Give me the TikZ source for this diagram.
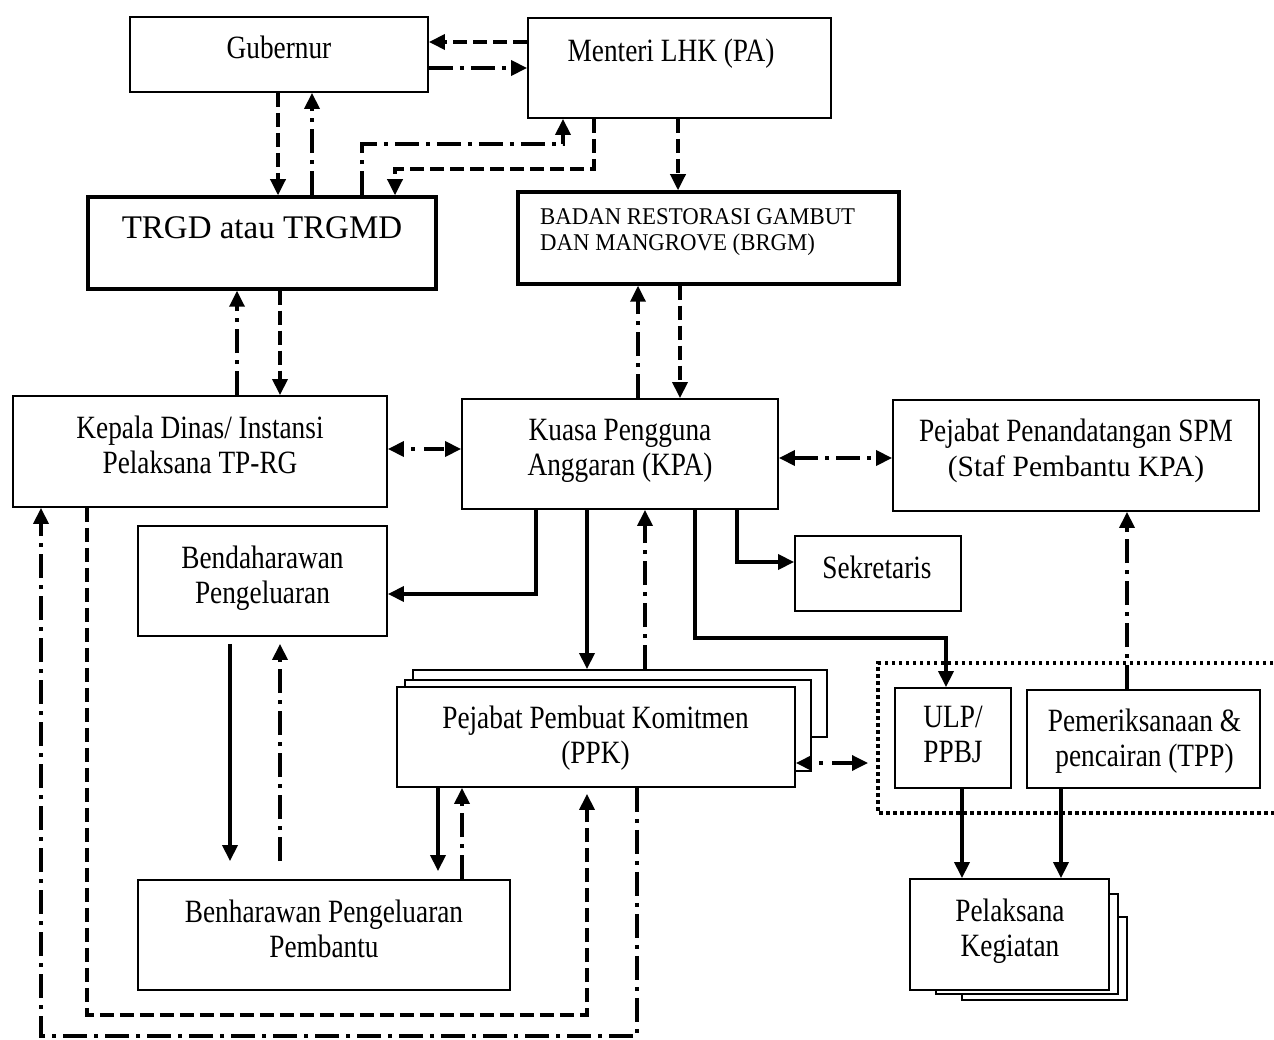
\documentclass[tikz,border=0pt]{standalone}
\usepackage{fontspec}
\usetikzlibrary{arrows.meta}
\newfontfamily\tmsc[FakeStretch=0.84]{Liberation Serif}
\newfontfamily\tmsn{Liberation Serif}
\newfontfamily\tmsb[FakeStretch=0.95]{Liberation Serif}
\newcommand\txtf{\tmsc\fontsize{32.5}{35}\selectfont}
\newcommand\trgf{\tmsn\fontsize{33}{36}\selectfont}
\newcommand\brgf{\tmsb\fontsize{24}{26}\selectfont}
\newcommand\spmf{\tmsn\fontsize{29.5}{35}\selectfont}
\tikzset{
  bx/.style={draw, line width=1.8pt, fill=white, inner sep=0pt, rectangle},
  bxthick/.style={bx, line width=3.5pt},
  txt/.style={font=\txtf, align=center, inner sep=0pt, anchor=north},
  conn/.style={line width=3.4pt, -{Triangle[length=16pt,width=15pt]}},
  both/.style={line width=3.4pt, {Triangle[length=16pt,width=15pt]}-{Triangle[length=16pt,width=15pt]}},
  dsh/.style={dash pattern=on 14pt off 6pt},
  dshdot/.style={dash pattern=on 24pt off 7pt on 4pt off 7pt},
  shortdd/.style={dash pattern=on 4pt off 9pt on 20pt off 8pt, dash phase=33pt},
  region/.style={line width=3.5pt, dash pattern=on 3.5pt off 3.5pt},
}
\begin{document}
\begin{tikzpicture}[x=1pt,y=-1pt]
\useasboundingbox (0,0) rectangle (1274,1040);
% boxes
\node[bx, minimum width=298pt, minimum height=75pt] (gub) at (279,54.5) {};
\node[bx, minimum width=303pt, minimum height=100pt] (men) at (679.5,68) {};
\node[bxthick, minimum width=348pt, minimum height=92pt] (trg) at (262,243) {};
\node[bxthick, minimum width=381pt, minimum height=92pt] (brg) at (708.5,238) {};
\node[bx, minimum width=374pt, minimum height=111pt] (kep) at (200,451.5) {};
\node[bx, minimum width=316pt, minimum height=110pt] (kpa) at (620,454) {};
\node[bx, minimum width=366pt, minimum height=111pt] (spm) at (1076,455.5) {};
\node[bx, minimum width=249pt, minimum height=110pt] (ben) at (262.5,581) {};
\node[bx, minimum width=166pt, minimum height=75pt] (sek) at (878,573.5) {};
\node[bx, minimum width=414pt, minimum height=67pt] (ppk3) at (620,703.5) {};
\node[bx, minimum width=406pt, minimum height=91pt] (ppk2) at (608,725.5) {};
\node[bx, minimum width=398pt, minimum height=100pt] (ppk) at (596,737) {};
% dotted region
\draw[region] (1280,663) -- (878,663) -- (878,813) -- (1280,813);
\node[bx, minimum width=116pt, minimum height=100pt] (ulp) at (953,738) {};
\node[bx, minimum width=233pt, minimum height=98pt] (tpp) at (1143.5,739) {};
\node[bx, minimum width=165pt, minimum height=83pt] (pel3) at (1044.5,958.5) {};
\node[bx, minimum width=182pt, minimum height=100pt] (pel2) at (1027,944) {};
\node[bx, minimum width=199pt, minimum height=111pt] (pel) at (1009.5,934.5) {};
\node[bx, minimum width=372pt, minimum height=110pt] (bhp) at (324,935) {};
% texts
\node[txt] (tgub) at (279,35.5) {Gubernur};
\node[txt] (tmen) at (671,38.5) {Menteri LHK (PA)};
\node[txt, font=\trgf] (ttrg) at (262,216) {TRGD atau TRGMD};
\node[txt, font=\brgf, align=left, anchor=north west] (tbrg) at (540,208) {BADAN RESTORASI GAMBUT\\DAN MANGROVE (BRGM)};
\node[txt] (tkep) at (200,415.5) {Kepala Dinas/ Instansi\\Pelaksana TP-RG};
\node[txt] (tkpa) at (620,419) {Kuasa Pengguna\\Anggaran (KPA)};
\node[txt] (tspm) at (1076,418.5) {Pejabat Penandatangan SPM\\{\spmf (Staf Pembantu KPA)}};
\node[txt] (tben) at (262.5,546) {Bendaharawan\\Pengeluaran};
\node[txt] (tsek) at (877,555.5) {Sekretaris};
\node[txt] (tppk) at (595.5,706) {Pejabat Pembuat Komitmen\\(PPK)};
\node[txt] (tulp) at (953,706) {ULP/\\PPBJ};
\node[txt] (ttpp) at (1144.5,709) {Pemeriksanaan \&\\pencairan (TPP)};
\node[txt] (tpel) at (1010,898.5) {Pelaksana\\Kegiatan};
\node[txt] (tbhp) at (324,900) {Benharawan Pengeluaran\\Pembantu};
% connectors top
\draw[conn,dsh] (men.west |- 0,42) -- (gub.east |- 0,42);
\draw[conn,dshdot] (gub.east |- 0,68) -- (men.west |- 0,68);
\draw[conn,dsh] (278,0 |- gub.south) -- (278,0 |- trg.north);
\draw[conn,dshdot] (312,0 |- trg.north) -- (312,0 |- gub.south);
\draw[conn,dshdot] (362,0 |- trg.north) -- (362,144) -- (563,144) -- (563,0 |- men.south);
\draw[conn,dsh] (594,0 |- men.south) -- (594,169) -- (395,169) -- (395,0 |- trg.north);
\draw[conn,dsh] (678,0 |- men.south) -- (678,0 |- brg.north);
\draw[conn,dshdot] (237,0 |- kep.north) -- (237,0 |- trg.south);
\draw[conn,dsh] (280,0 |- trg.south) -- (280,0 |- kep.north);
\draw[conn,dshdot] (638,0 |- kpa.north) -- (638,0 |- brg.south);
\draw[conn,dsh] (680,0 |- brg.south) -- (680,0 |- kpa.north);
% middle
\draw[both,shortdd] (kep.east |- 0,449) -- (kpa.west |- 0,449);
\draw[both,dshdot] (kpa.east |- 0,458) -- (spm.west |- 0,458);
\draw[conn] (536,0 |- kpa.south) -- (536,594) -- (ben.east |- 0,594);
\draw[conn] (587,0 |- kpa.south) -- (587,0 |- ppk3.north);
\draw[conn,dshdot] (645,0 |- ppk3.north) -- (645,0 |- kpa.south);
\draw[conn] (737,0 |- kpa.south) -- (737,562) -- (sek.west |- 0,562);
\draw[conn] (695,0 |- kpa.south) -- (695,638) -- (946,638) -- (946,0 |- ulp.north);
\coordinate (grp) at (868,763);
\draw[both,shortdd] (ppk.east |- 0,763) -- (grp);
\draw[conn,dshdot] (1127,0 |- tpp.north) -- (1127,0 |- spm.south);
\draw[conn] (962,0 |- ulp.south) -- (962,0 |- pel.north);
\draw[conn] (1061,0 |- tpp.south) -- (1061,0 |- pel.north);
% lower left
\draw[conn, shorten <=7pt, shorten >=18pt] (230,0 |- ben.south) -- (230,0 |- bhp.north);
\draw[conn, dshdot, shorten <=18pt, shorten >=7pt] (280,0 |- bhp.north) -- (280,0 |- ben.south);
\draw[conn, shorten >=8pt] (438,0 |- ppk.south) -- (438,0 |- bhp.north);
\draw[conn, dshdot] (462,0 |- bhp.north) -- (462,0 |- ppk.south);
\draw[conn, dsh, shorten >=6pt] (87,0 |- kep.south) -- (87,1015) -- (587,1015) -- (587,0 |- ppk.south);
\draw[conn, dshdot] (637,0 |- ppk.south) -- (637,1036) -- (41,1036) -- (41,0 |- kep.south);
\end{tikzpicture}
\end{document}
